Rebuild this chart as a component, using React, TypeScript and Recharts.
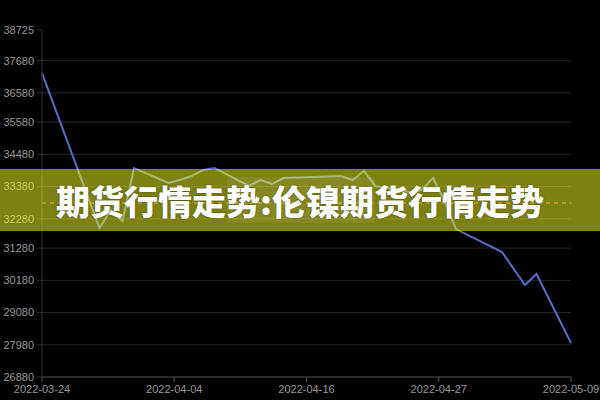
import React from "react";
import { LineChart, Line, XAxis, YAxis, ReferenceLine } from "recharts";

const dates = [
  "2022-03-24", "2022-03-29", "2022-03-30", "2022-03-31", "2022-04-01",
  "2022-04-04", "2022-04-05", "2022-04-06", "2022-04-07", "2022-04-08",
  "2022-04-11", "2022-04-12", "2022-04-13", "2022-04-14", "2022-04-19",
  "2022-04-20", "2022-04-21", "2022-04-22", "2022-04-25", "2022-04-26",
  "2022-04-27", "2022-04-28", "2022-04-29", "2022-05-03", "2022-05-05",
  "2022-05-06", "2022-05-09",
];
const prices = [
  37256, 31966, 32580, 32204, 34013,
  33501, 33604, 33740, 33945, 34013,
  33400, 33604, 33467, 33672, 33740,
  33604, 33911, 33400, 33194, 33262,
  33672, 32887, 31931, 31146, 30020,
  30395, 28040,
];
const yTicks = [26880, 27980, 29080, 30180, 31280, 32280, 33380, 34480, 35580, 36580, 37680, 38725];
const xTickTimes = ["2022-03-24T00:00:00Z", "2022-04-04T12:00:00Z", "2022-04-16T00:00:00Z", "2022-04-27T12:00:00Z", "2022-05-09T00:00:00Z"];
const xTickLabels = ["2022-03-24", "2022-04-04", "2022-04-16", "2022-04-27", "2022-05-09"];
const averageLine = 32820;
const title = "期货行情走势:伦镍期货行情走势";

const data = dates.map((d, i) => ({ t: Date.parse(d + "T00:00:00Z"), v: prices[i] }));
const xTicks = xTickTimes.map((s) => Date.parse(s));
const xLabelMap = new Map(xTicks.map((t, i) => [t, xTickLabels[i]]));

export default function App() {
  return (
    <div style={{ position: "absolute", left: 0, top: 0, width: 600, height: 400, background: "#000", overflow: "hidden" }}>
      <LineChart width={600} height={400} data={data} margin={{ top: 30, right: 29, bottom: 0, left: 0 }}>
        {yTicks.slice(1, -1).map((y) => (
          <ReferenceLine key={y} y={y} stroke="#262626" strokeWidth={1} ifOverflow="extendDomain" />
        ))}
        <ReferenceLine y={averageLine} stroke="#a04848" strokeWidth={1.5} strokeDasharray="4 4" />
        <XAxis
          dataKey="t"
          type="number"
          scale="linear"
          domain={[xTicks[0], xTicks[xTicks.length - 1]]}
          ticks={xTicks}
          interval={0}
          height={23}
          tickSize={5}
          tickMargin={3}
          stroke="#555"
          tick={{ fill: "#999", fontSize: 11, fontFamily: "Liberation Sans, Arial, sans-serif" }}
          tickFormatter={(v: number) => xLabelMap.get(v) ?? ""}
        />
        <YAxis
          type="number"
          domain={[yTicks[0], yTicks[yTicks.length - 1]]}
          ticks={yTicks}
          interval={0}
          width={42}
          tickSize={5}
          tickMargin={3}
          stroke="#333"
          tick={{ fill: "#999", fontSize: 11, fontFamily: "Liberation Sans, Arial, sans-serif" }}
          allowDataOverflow
        />
        <Line type="linear" dataKey="v" stroke="#5470c6" strokeWidth={2} dot={false} isAnimationActive={false} />
      </LineChart>
      <div style={{ position: "absolute", left: 0, top: 169, width: 600, height: 62, background: "rgba(250,255,36,0.5)" }} />
      <div style={{ position: "absolute", left: 227, top: 177, width: 148, height: 46, background: "rgba(255,255,255,0.07)" }} />
      <div
        style={{
          position: "absolute",
          left: 0,
          top: 169,
          width: 600,
          height: 62,
          display: "flex",
          alignItems: "center",
          justifyContent: "center",
          color: "#fff",
          fontSize: 34,
          fontWeight: 900,
          fontFamily: "'Noto Sans CJK SC', sans-serif",
          textShadow: "0 0 2px rgba(0,0,0,0.5)",
          whiteSpace: "nowrap",
        }}
      >
        {title}
      </div>
    </div>
  );
}
